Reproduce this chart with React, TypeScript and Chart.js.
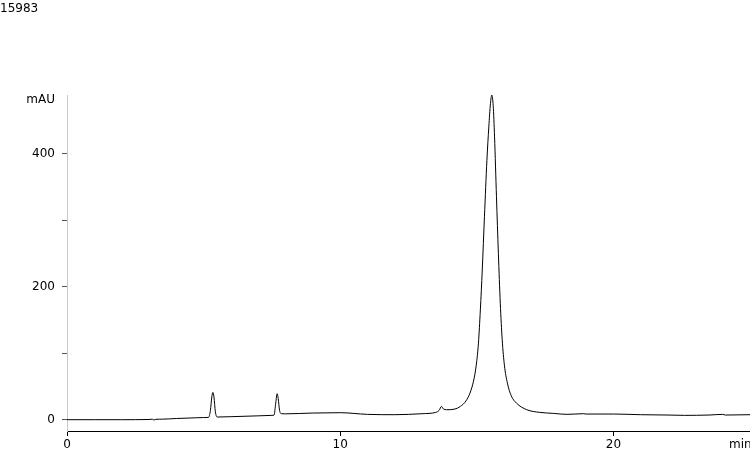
import { useEffect, useRef } from 'react';
import { Chart, registerables } from 'chart.js';

Chart.register(...registerables);

// retention time (min) and absorbance (mAU)
const times = [
  0, 1, 2, 3, 3.12, 3.18, 3.25, 3.5, 4, 4.5, 5, 5.18, 5.25, 5.3, 5.34, 5.38, 5.43, 5.5,
  6, 7, 7.5, 7.58, 7.64, 7.69, 7.73, 7.78, 7.85, 8, 9, 10, 11, 12, 13, 13.5, 13.62,
  13.71, 13.78, 13.9, 14.2, 14.4, 14.6, 14.75, 14.88, 14.98, 15.06, 15.13, 15.2,
  15.28, 15.37, 15.44, 15.5, 15.55, 15.6, 15.65, 15.72, 15.79, 15.86, 15.93, 16.01,
  16.12, 16.26, 16.45, 16.83, 17.3, 17.8, 18.3, 18.9, 19, 20, 21, 22, 22.6, 23.5, 24,
  24.1, 25,
];
const mAU = [
  0, 0, 0, 0.3, 0.8, -0.5, 0.5, 0.8, 1.8, 2.5, 3.2, 3.5, 14, 34, 41, 34, 12, 4,
  4.5, 5.8, 6.5, 7, 25, 39, 32, 14, 9, 8.8, 10, 10.5, 8, 7.5, 9, 11, 14,
  20, 16, 15, 16, 20, 28, 40, 58, 82, 115, 165, 225,
  305, 390, 440, 475, 488, 472, 425, 335, 250, 175, 120, 82,
  55, 36, 25, 15, 11, 9.5, 8, 9, 8.5, 8.5, 7.5, 7, 6.5, 7, 8,
  7, 7.5,
];

const xTicks = [0, 10, 20];
const yTicks = [0, 100, 200, 300, 400];
const yLabelled = [0, 200, 400];

const FONT = '"DejaVu Sans", Verdana, sans-serif';

const labelsPlugin = {
  id: 'labels',
  afterDraw(chart: Chart) {
    const ctx = chart.ctx;
    ctx.save();
    ctx.font = `12px ${FONT}`;
    ctx.fillStyle = '#000';
    ctx.textBaseline = 'alphabetic';
    ctx.textAlign = 'left';
    ctx.fillText('15983', 0, 12);
    ctx.fillText('min', 729, 448);
    ctx.textAlign = 'right';
    ctx.fillText('mAU', 55, 103);
    ctx.restore();
  },
};

export default function App() {
  const canvasRef = useRef<HTMLCanvasElement>(null);

  useEffect(() => {
    if (!canvasRef.current) return;

    const chart = new Chart(canvasRef.current, {
      type: 'line',
      data: {
        datasets: [{
          data: times.map((t, i) => ({ x: t, y: mAU[i] })),
          borderColor: '#000',
          borderWidth: 1,
          pointRadius: 0,
          cubicInterpolationMode: 'monotone',
          fill: false,
        }],
      },
      options: {
        animation: false,
        responsive: true,
        maintainAspectRatio: false,
        layout: { padding: { top: 95, left: 0, right: 0, bottom: 0 } },
        plugins: {
          legend: { display: false },
          title: { display: false },
          tooltip: { enabled: false },
        },
        scales: {
          x: {
            type: 'linear',
            min: 0,
            max: 25,
            afterBuildTicks: (scale: any) => {
              scale.ticks = xTicks.map((v) => ({ value: v }));
            },
            afterFit: (scale: any) => {
              scale.height = 18;
            },
            grid: { drawOnChartArea: false, drawTicks: true, tickLength: 5, tickColor: '#000' },
            border: { color: '#000', width: 1 },
            ticks: { color: '#000', font: { family: FONT, size: 12 }, padding: 2, maxRotation: 0 },
          },
          y: {
            min: -17,
            max: 488,
            afterBuildTicks: (scale: any) => {
              scale.ticks = yTicks.map((v) => ({ value: v }));
            },
            afterFit: (scale: any) => {
              scale.width = 67;
            },
            grid: { drawOnChartArea: false, drawTicks: true, tickLength: 5, tickColor: '#555' },
            border: { color: '#c8c8c8', width: 1 },
            ticks: {
              color: '#000',
              font: { family: FONT, size: 12 },
              padding: 7,
              callback: (v: any) => (yLabelled.includes(Number(v)) ? String(v) : ''),
            },
          },
        },
      },
      plugins: [labelsPlugin],
    });

    return () => {
      chart.destroy();
    };
  }, []);

  return (
    <div style={{ position: 'fixed', left: 0, top: 0, width: 750, height: 449, background: '#fff' }}>
      <canvas ref={canvasRef} />
    </div>
  );
}
